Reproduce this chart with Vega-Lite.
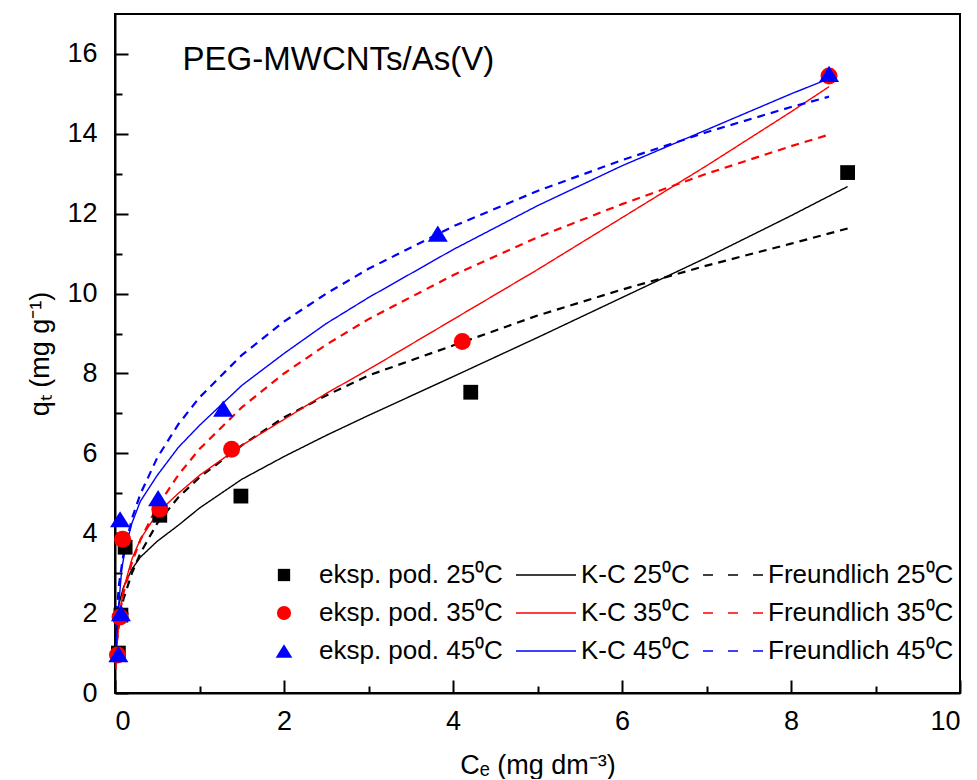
{
  "$schema": "https://vega.github.io/schema/vega-lite/v6.json",
  "width": 845,
  "height": 679,
  "autosize": {"type": "none"},
  "padding": {"left": 115, "top": 14, "right": 17, "bottom": 86},
  "background": "white",
  "config": {
    "font": "Liberation Sans",
    "view": {"stroke": "black", "strokeWidth": 2},
    "axis": {
      "grid": false,
      "domainColor": "black",
      "domainWidth": 2,
      "tickColor": "black",
      "tickWidth": 2,
      "labelColor": "black",
      "titleColor": "black",
      "labelFont": "Liberation Sans",
      "titleFont": "Liberation Sans",
      "labelFontSize": 27,
      "titleFontSize": 27,
      "titleFontWeight": "normal"
    }
  },
  "datasets": {
    "pts": [
      {"series": "eksp. pod. 25⁰C", "C": 0.04, "q": 1.0},
      {"series": "eksp. pod. 25⁰C", "C": 0.07, "q": 1.95},
      {"series": "eksp. pod. 25⁰C", "C": 0.12, "q": 3.65},
      {"series": "eksp. pod. 25⁰C", "C": 0.53, "q": 4.45},
      {"series": "eksp. pod. 25⁰C", "C": 1.49, "q": 4.93},
      {"series": "eksp. pod. 25⁰C", "C": 4.21, "q": 7.53},
      {"series": "eksp. pod. 25⁰C", "C": 8.67, "q": 13.03},
      {"series": "eksp. pod. 35⁰C", "C": 0.03, "q": 0.95},
      {"series": "eksp. pod. 35⁰C", "C": 0.06, "q": 1.9},
      {"series": "eksp. pod. 35⁰C", "C": 0.09, "q": 3.85},
      {"series": "eksp. pod. 35⁰C", "C": 0.53, "q": 4.6},
      {"series": "eksp. pod. 35⁰C", "C": 1.38, "q": 6.1},
      {"series": "eksp. pod. 35⁰C", "C": 4.11, "q": 8.8},
      {"series": "eksp. pod. 35⁰C", "C": 8.45, "q": 15.45},
      {"series": "eksp. pod. 45⁰C", "C": 0.04, "q": 0.97},
      {"series": "eksp. pod. 45⁰C", "C": 0.07, "q": 2.0},
      {"series": "eksp. pod. 45⁰C", "C": 0.06, "q": 4.35},
      {"series": "eksp. pod. 45⁰C", "C": 0.51, "q": 4.88},
      {"series": "eksp. pod. 45⁰C", "C": 1.28, "q": 7.12},
      {"series": "eksp. pod. 45⁰C", "C": 3.82, "q": 11.5},
      {"series": "eksp. pod. 45⁰C", "C": 8.45, "q": 15.5}
    ],
    "curves": [
      {"series": "K-C 25⁰C", "model": "K-C", "C": 0.01, "q": 1.4},
      {"series": "K-C 25⁰C", "model": "K-C", "C": 0.02, "q": 1.8},
      {"series": "K-C 25⁰C", "model": "K-C", "C": 0.05, "q": 2.25},
      {"series": "K-C 25⁰C", "model": "K-C", "C": 0.1, "q": 2.65},
      {"series": "K-C 25⁰C", "model": "K-C", "C": 0.2, "q": 3.1},
      {"series": "K-C 25⁰C", "model": "K-C", "C": 0.3, "q": 3.4},
      {"series": "K-C 25⁰C", "model": "K-C", "C": 0.5, "q": 3.8},
      {"series": "K-C 25⁰C", "model": "K-C", "C": 0.75, "q": 4.2},
      {"series": "K-C 25⁰C", "model": "K-C", "C": 1.0, "q": 4.63},
      {"series": "K-C 25⁰C", "model": "K-C", "C": 1.5, "q": 5.35},
      {"series": "K-C 25⁰C", "model": "K-C", "C": 2.0, "q": 5.92},
      {"series": "K-C 25⁰C", "model": "K-C", "C": 2.5, "q": 6.45},
      {"series": "K-C 25⁰C", "model": "K-C", "C": 3.0, "q": 6.95},
      {"series": "K-C 25⁰C", "model": "K-C", "C": 4.0, "q": 7.92},
      {"series": "K-C 25⁰C", "model": "K-C", "C": 5.0, "q": 8.9},
      {"series": "K-C 25⁰C", "model": "K-C", "C": 6.0, "q": 9.9},
      {"series": "K-C 25⁰C", "model": "K-C", "C": 7.0, "q": 10.9},
      {"series": "K-C 25⁰C", "model": "K-C", "C": 8.0, "q": 11.95},
      {"series": "K-C 25⁰C", "model": "K-C", "C": 8.67, "q": 12.68},
      {"series": "Freundlich 25⁰C", "model": "Freundlich", "C": 0.02, "q": 1.25},
      {"series": "Freundlich 25⁰C", "model": "Freundlich", "C": 0.05, "q": 1.8},
      {"series": "Freundlich 25⁰C", "model": "Freundlich", "C": 0.1, "q": 2.35},
      {"series": "Freundlich 25⁰C", "model": "Freundlich", "C": 0.2, "q": 3.0},
      {"series": "Freundlich 25⁰C", "model": "Freundlich", "C": 0.3, "q": 3.5},
      {"series": "Freundlich 25⁰C", "model": "Freundlich", "C": 0.5, "q": 4.25},
      {"series": "Freundlich 25⁰C", "model": "Freundlich", "C": 0.75, "q": 4.9},
      {"series": "Freundlich 25⁰C", "model": "Freundlich", "C": 1.0, "q": 5.4},
      {"series": "Freundlich 25⁰C", "model": "Freundlich", "C": 1.5, "q": 6.2},
      {"series": "Freundlich 25⁰C", "model": "Freundlich", "C": 2.0, "q": 6.9},
      {"series": "Freundlich 25⁰C", "model": "Freundlich", "C": 2.5, "q": 7.45},
      {"series": "Freundlich 25⁰C", "model": "Freundlich", "C": 3.0, "q": 7.95},
      {"series": "Freundlich 25⁰C", "model": "Freundlich", "C": 4.0, "q": 8.7},
      {"series": "Freundlich 25⁰C", "model": "Freundlich", "C": 5.0, "q": 9.45},
      {"series": "Freundlich 25⁰C", "model": "Freundlich", "C": 6.0, "q": 10.1},
      {"series": "Freundlich 25⁰C", "model": "Freundlich", "C": 7.0, "q": 10.7},
      {"series": "Freundlich 25⁰C", "model": "Freundlich", "C": 8.0, "q": 11.25},
      {"series": "Freundlich 25⁰C", "model": "Freundlich", "C": 8.67, "q": 11.63},
      {"series": "K-C 35⁰C", "model": "K-C", "C": 0.01, "q": 0.6},
      {"series": "K-C 35⁰C", "model": "K-C", "C": 0.02, "q": 1.1},
      {"series": "K-C 35⁰C", "model": "K-C", "C": 0.05, "q": 1.9},
      {"series": "K-C 35⁰C", "model": "K-C", "C": 0.1, "q": 2.6},
      {"series": "K-C 35⁰C", "model": "K-C", "C": 0.2, "q": 3.35},
      {"series": "K-C 35⁰C", "model": "K-C", "C": 0.3, "q": 3.85},
      {"series": "K-C 35⁰C", "model": "K-C", "C": 0.5, "q": 4.5},
      {"series": "K-C 35⁰C", "model": "K-C", "C": 0.75, "q": 5.0},
      {"series": "K-C 35⁰C", "model": "K-C", "C": 1.0, "q": 5.45},
      {"series": "K-C 35⁰C", "model": "K-C", "C": 1.5, "q": 6.2},
      {"series": "K-C 35⁰C", "model": "K-C", "C": 2.0, "q": 6.85},
      {"series": "K-C 35⁰C", "model": "K-C", "C": 2.5, "q": 7.5},
      {"series": "K-C 35⁰C", "model": "K-C", "C": 3.0, "q": 8.1},
      {"series": "K-C 35⁰C", "model": "K-C", "C": 4.0, "q": 9.35},
      {"series": "K-C 35⁰C", "model": "K-C", "C": 5.0, "q": 10.6},
      {"series": "K-C 35⁰C", "model": "K-C", "C": 6.0, "q": 11.9},
      {"series": "K-C 35⁰C", "model": "K-C", "C": 7.0, "q": 13.2},
      {"series": "K-C 35⁰C", "model": "K-C", "C": 8.0, "q": 14.55},
      {"series": "K-C 35⁰C", "model": "K-C", "C": 8.45, "q": 15.18},
      {"series": "Freundlich 35⁰C", "model": "Freundlich", "C": 0.01, "q": 1.02},
      {"series": "Freundlich 35⁰C", "model": "Freundlich", "C": 0.02, "q": 1.34},
      {"series": "Freundlich 35⁰C", "model": "Freundlich", "C": 0.05, "q": 1.91},
      {"series": "Freundlich 35⁰C", "model": "Freundlich", "C": 0.1, "q": 2.5},
      {"series": "Freundlich 35⁰C", "model": "Freundlich", "C": 0.2, "q": 3.27},
      {"series": "Freundlich 35⁰C", "model": "Freundlich", "C": 0.3, "q": 3.83},
      {"series": "Freundlich 35⁰C", "model": "Freundlich", "C": 0.5, "q": 4.67},
      {"series": "Freundlich 35⁰C", "model": "Freundlich", "C": 0.75, "q": 5.46},
      {"series": "Freundlich 35⁰C", "model": "Freundlich", "C": 1.0, "q": 6.11},
      {"series": "Freundlich 35⁰C", "model": "Freundlich", "C": 1.5, "q": 7.15},
      {"series": "Freundlich 35⁰C", "model": "Freundlich", "C": 2.0, "q": 8.0},
      {"series": "Freundlich 35⁰C", "model": "Freundlich", "C": 2.5, "q": 8.72},
      {"series": "Freundlich 35⁰C", "model": "Freundlich", "C": 3.0, "q": 9.36},
      {"series": "Freundlich 35⁰C", "model": "Freundlich", "C": 4.0, "q": 10.46},
      {"series": "Freundlich 35⁰C", "model": "Freundlich", "C": 5.0, "q": 11.41},
      {"series": "Freundlich 35⁰C", "model": "Freundlich", "C": 6.0, "q": 12.24},
      {"series": "Freundlich 35⁰C", "model": "Freundlich", "C": 7.0, "q": 13.0},
      {"series": "Freundlich 35⁰C", "model": "Freundlich", "C": 8.0, "q": 13.69},
      {"series": "Freundlich 35⁰C", "model": "Freundlich", "C": 8.45, "q": 13.98},
      {"series": "K-C 45⁰C", "model": "K-C", "C": 0.01, "q": 0.9},
      {"series": "K-C 45⁰C", "model": "K-C", "C": 0.02, "q": 1.4},
      {"series": "K-C 45⁰C", "model": "K-C", "C": 0.04, "q": 2.1},
      {"series": "K-C 45⁰C", "model": "K-C", "C": 0.08, "q": 3.1},
      {"series": "K-C 45⁰C", "model": "K-C", "C": 0.12, "q": 3.6},
      {"series": "K-C 45⁰C", "model": "K-C", "C": 0.2, "q": 4.25},
      {"series": "K-C 45⁰C", "model": "K-C", "C": 0.3, "q": 4.8},
      {"series": "K-C 45⁰C", "model": "K-C", "C": 0.5, "q": 5.45},
      {"series": "K-C 45⁰C", "model": "K-C", "C": 0.75, "q": 6.15},
      {"series": "K-C 45⁰C", "model": "K-C", "C": 1.0, "q": 6.7},
      {"series": "K-C 45⁰C", "model": "K-C", "C": 1.5, "q": 7.7},
      {"series": "K-C 45⁰C", "model": "K-C", "C": 2.0, "q": 8.5},
      {"series": "K-C 45⁰C", "model": "K-C", "C": 2.5, "q": 9.25},
      {"series": "K-C 45⁰C", "model": "K-C", "C": 3.0, "q": 9.9},
      {"series": "K-C 45⁰C", "model": "K-C", "C": 4.0, "q": 11.1},
      {"series": "K-C 45⁰C", "model": "K-C", "C": 5.0, "q": 12.2},
      {"series": "K-C 45⁰C", "model": "K-C", "C": 6.0, "q": 13.2},
      {"series": "K-C 45⁰C", "model": "K-C", "C": 7.0, "q": 14.1},
      {"series": "K-C 45⁰C", "model": "K-C", "C": 8.0, "q": 15.0},
      {"series": "K-C 45⁰C", "model": "K-C", "C": 8.45, "q": 15.38},
      {"series": "Freundlich 45⁰C", "model": "Freundlich", "C": 0.01, "q": 1.63},
      {"series": "Freundlich 45⁰C", "model": "Freundlich", "C": 0.02, "q": 2.04},
      {"series": "Freundlich 45⁰C", "model": "Freundlich", "C": 0.05, "q": 2.76},
      {"series": "Freundlich 45⁰C", "model": "Freundlich", "C": 0.1, "q": 3.47},
      {"series": "Freundlich 45⁰C", "model": "Freundlich", "C": 0.2, "q": 4.36},
      {"series": "Freundlich 45⁰C", "model": "Freundlich", "C": 0.3, "q": 4.98},
      {"series": "Freundlich 45⁰C", "model": "Freundlich", "C": 0.5, "q": 5.89},
      {"series": "Freundlich 45⁰C", "model": "Freundlich", "C": 0.75, "q": 6.73},
      {"series": "Freundlich 45⁰C", "model": "Freundlich", "C": 1.0, "q": 7.4},
      {"series": "Freundlich 45⁰C", "model": "Freundlich", "C": 1.5, "q": 8.46},
      {"series": "Freundlich 45⁰C", "model": "Freundlich", "C": 2.0, "q": 9.3},
      {"series": "Freundlich 45⁰C", "model": "Freundlich", "C": 2.5, "q": 10.0},
      {"series": "Freundlich 45⁰C", "model": "Freundlich", "C": 3.0, "q": 10.62},
      {"series": "Freundlich 45⁰C", "model": "Freundlich", "C": 4.0, "q": 11.68},
      {"series": "Freundlich 45⁰C", "model": "Freundlich", "C": 5.0, "q": 12.57},
      {"series": "Freundlich 45⁰C", "model": "Freundlich", "C": 6.0, "q": 13.34},
      {"series": "Freundlich 45⁰C", "model": "Freundlich", "C": 7.0, "q": 14.04},
      {"series": "Freundlich 45⁰C", "model": "Freundlich", "C": 8.0, "q": 14.67},
      {"series": "Freundlich 45⁰C", "model": "Freundlich", "C": 8.45, "q": 14.93}
    ],
    "note": [{"label": "PEG-MWCNTs/As(V)"}]
  },
  "layer": [
    {
      "data": {"name": "curves"},
      "mark": {"type": "line", "clip": true},
      "encoding": {
        "x": {
          "field": "C", "type": "quantitative",
          "scale": {"domain": [0, 10], "nice": false, "zero": false},
          "axis": {"orient": "bottom", "values": [0, 2, 4, 6, 8, 10], "ticks": false, "labelPadding": 15, "title": "Cₑ (mg dm⁻³)", "titlePadding": 18}
        },
        "y": {
          "field": "q", "type": "quantitative",
          "scale": {"domain": [0, 17], "nice": false, "zero": false},
          "axis": {"orient": "left", "values": [0, 2, 4, 6, 8, 10, 12, 14, 16], "ticks": false, "labelPadding": 18, "title": "qₜ (mg g⁻¹)", "titlePadding": 12}
        },
        "color": {
          "field": "series", "type": "nominal",
          "scale": {
            "domain": ["eksp. pod. 25⁰C", "eksp. pod. 35⁰C", "eksp. pod. 45⁰C", "K-C 25⁰C", "K-C 35⁰C", "K-C 45⁰C", "Freundlich 25⁰C", "Freundlich 35⁰C", "Freundlich 45⁰C"],
            "range": ["#000000", "#ff0000", "#0000ff", "#000000", "#ff0000", "#0000ff", "#000000", "#ff0000", "#0000ff"]
          },
          "legend": {
            "title": null, "orient": "none", "legendX": 138, "legendY": 548, "columns": 3,
            "symbolSize": 3600, "labelFontSize": 26, "labelFont": "Liberation Sans", "labelColor": "black",
            "labelOffset": 4, "columnPadding": 10, "rowPadding": 12, "labelLimit": 400,
            "encode": {
              "symbols": {
                "update": {
                  "x": {"value": 31},
                  "fill": {"scale": "color", "field": "value"},
                  "stroke": {"scale": "color", "field": "value"},
                  "strokeWidth": {"signal": "test(/eksp/, datum.value) ? 0 : 1.5"},
                  "strokeDash": {"signal": "test(/Freundlich/, datum.value) ? [10, 15] : [1, 0]"},
                  "size": {"signal": "test(/eksp/, datum.value) ? 200 : 3600"},
                  "shape": {"scale": "shape", "field": "value"},
                  "opacity": {"value": 1}
                }
              },
              "labels": {
                "update": {
                  "x": {"value": 66}
                }
              }
            }
          }
        },
        "strokeDash": {
          "field": "model", "type": "nominal",
          "scale": {"domain": ["K-C", "Freundlich"], "range": [[1, 0], [8, 6]]},
          "legend": null
        },
        "strokeWidth": {
          "field": "model", "type": "nominal",
          "scale": {"domain": ["K-C", "Freundlich"], "range": [1.4, 2.2]},
          "legend": null
        }
      }
    },
    {
      "data": {"name": "pts"},
      "mark": {"type": "point", "filled": true, "opacity": 1, "size": 289},
      "encoding": {
        "x": {
          "field": "C", "type": "quantitative",
          "axis": {"orient": "top", "offset": -679, "values": [0, 2, 4, 6, 8, 10], "labels": false, "tickSize": 13, "domain": false, "title": null}
        },
        "y": {
          "field": "q", "type": "quantitative",
          "axis": {"orient": "right", "offset": -845, "values": [0, 2, 4, 6, 8, 10, 12, 14, 16], "labels": false, "tickSize": 13, "domain": false, "title": null}
        },
        "color": {"field": "series", "type": "nominal"},
        "shape": {
          "field": "series", "type": "nominal",
          "scale": {
            "domain": ["eksp. pod. 25⁰C", "eksp. pod. 35⁰C", "eksp. pod. 45⁰C", "K-C 25⁰C", "K-C 35⁰C", "K-C 45⁰C", "Freundlich 25⁰C", "Freundlich 35⁰C", "Freundlich 45⁰C"],
            "range": ["M-0.87,-0.87L0.87,-0.87L0.87,0.87L-0.87,0.87Z", "circle", "M0,-0.95L1.18,0.95L-1.18,0.95Z", "stroke", "stroke", "stroke", "stroke", "stroke", "stroke"]
          },
          "legend": {
            "title": null, "orient": "none", "legendX": 138, "legendY": 548, "columns": 3,
            "symbolSize": 3600, "labelFontSize": 26, "labelFont": "Liberation Sans", "labelColor": "black",
            "labelOffset": 4, "columnPadding": 10, "rowPadding": 12, "labelLimit": 400
          }
        }
      }
    },
    {
      "data": {"name": "note"},
      "mark": {"type": "text", "align": "left", "baseline": "middle", "fontSize": 33, "font": "Liberation Sans", "color": "black"},
      "encoding": {
        "x": {
          "datum": 0.8, "type": "quantitative",
          "axis": {"orient": "top", "offset": -679, "values": [1, 3, 5, 7, 9], "labels": false, "tickSize": 7, "domain": false, "title": null}
        },
        "y": {
          "datum": 15.85, "type": "quantitative",
          "axis": {"orient": "right", "offset": -845, "values": [1, 3, 5, 7, 9, 11, 13, 15], "labels": false, "tickSize": 7, "domain": false, "title": null}
        },
        "text": {"field": "label"}
      }
    }
  ],
  "resolve": {"axis": {"x": "independent", "y": "independent"}}
}
